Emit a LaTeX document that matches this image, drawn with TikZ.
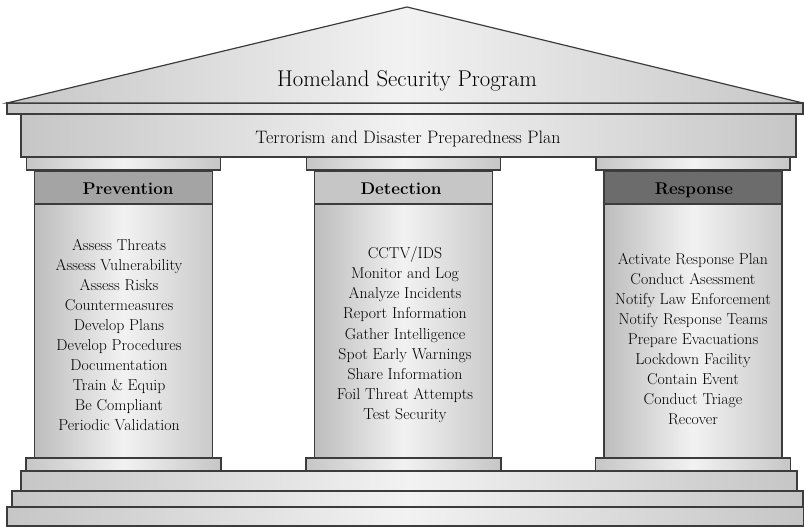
\documentclass[tikz,border=0pt]{standalone}
\usepackage{tikz}
\usetikzlibrary{positioning}
\definecolor{edge}{HTML}{3C3C3C}
\definecolor{stonedark}{HTML}{C6C6C6}
\definecolor{stonelight}{HTML}{F2F2F2}
\definecolor{shaftdark}{HTML}{BDBDBD}
\definecolor{prevhead}{HTML}{A4A4A4}
\definecolor{dethead}{HTML}{C6C6C6}
\definecolor{resphead}{HTML}{6C6C6C}
\tikzset{
	stone/.style={draw=edge, line width=1.2pt, left color=stonedark, right color=stonedark, middle color=stonelight},
	shaft/.style={draw=edge, line width=1.2pt, left color=shaftdark, right color=shaftdark!80, middle color=stonelight},
	head/.style={draw=edge, line width=1.2pt},
	item/.style={anchor=base, inner sep=0pt, font=\fontsize{15.8}{20}\selectfont},
	headtext/.style={anchor=base, inner sep=0pt, font=\fontsize{17}{20}\selectfont\bfseries}
}
\begin{document}
\begin{tikzpicture}[x=1pt,y=-1pt]
	\useasboundingbox (0,0) rectangle (804,527);

	\draw[stone] (7,507) rectangle (803.4,526);
	\draw[stone] (12,491) rectangle (803,507);
	\draw[stone] (21,471) rectangle (797,491);

	\foreach \cx/\hc in {123.5/prevhead, 403.5/dethead, 693/resphead} {
		\draw[stone] (\cx-97.5,458) rectangle (\cx+97.5,471);
		\draw[shaft] (\cx-89,171) rectangle (\cx+89,458);
		\draw[head, fill=\hc] (\cx-89,171) rectangle (\cx+89,204);
		\draw[stone] (\cx-97,157) rectangle (\cx+97,170);
	}

	\draw[stone] (21,114) rectangle (796,157);
	\draw[stone] (7,103) rectangle (803,114);
	\draw[stone] (7,103) coordinate (eaveL) -- (407,7) coordinate (apex) -- (803,103) coordinate (eaveR) -- cycle;

	\node[anchor=base, inner sep=0pt, font=\fontsize{22.8}{26}\selectfont] (program) at (407,87) {Homeland Security Program};
	\node[anchor=base, inner sep=0pt, font=\fontsize{18}{22}\selectfont] (plan) at (408,143) {Terrorism and Disaster Preparedness Plan};

	\node[headtext] (prevention) at (128,194) {Prevention};
	\node[headtext] (detection) at (401,194) {Detection};
	\node[headtext] (response) at (694,194) {Response};

	\foreach \t [count=\i] in {Assess Threats, Assess Vulnerability, Assess Risks, Countermeasures, Develop Plans, Develop Procedures, Documentation, Train \& Equip, Be Compliant, Periodic Validation}
		\node[item] (prev\i) at (119,250.5+20*\i-20) {\t};

	\foreach \t [count=\i] in {CCTV/IDS, Monitor and Log, Analyze Incidents, Report Information, Gather Intelligence, Spot Early Warnings, Share Information, Foil Threat Attempts, Test Security}
		\node[item] (det\i) at (405,258.3+20.2*\i-20.2) {\t};

	\foreach \t [count=\i] in {Activate Response Plan, Conduct Asessment, Notify Law Enforcement, Notify Response Teams, Prepare Evacuations, Lockdown Facility, Contain Event, Conduct Triage, Recover}
		\node[item] (resp\i) at (693,264.3+20*\i-20) {\t};

	\end{tikzpicture}
\end{document}
